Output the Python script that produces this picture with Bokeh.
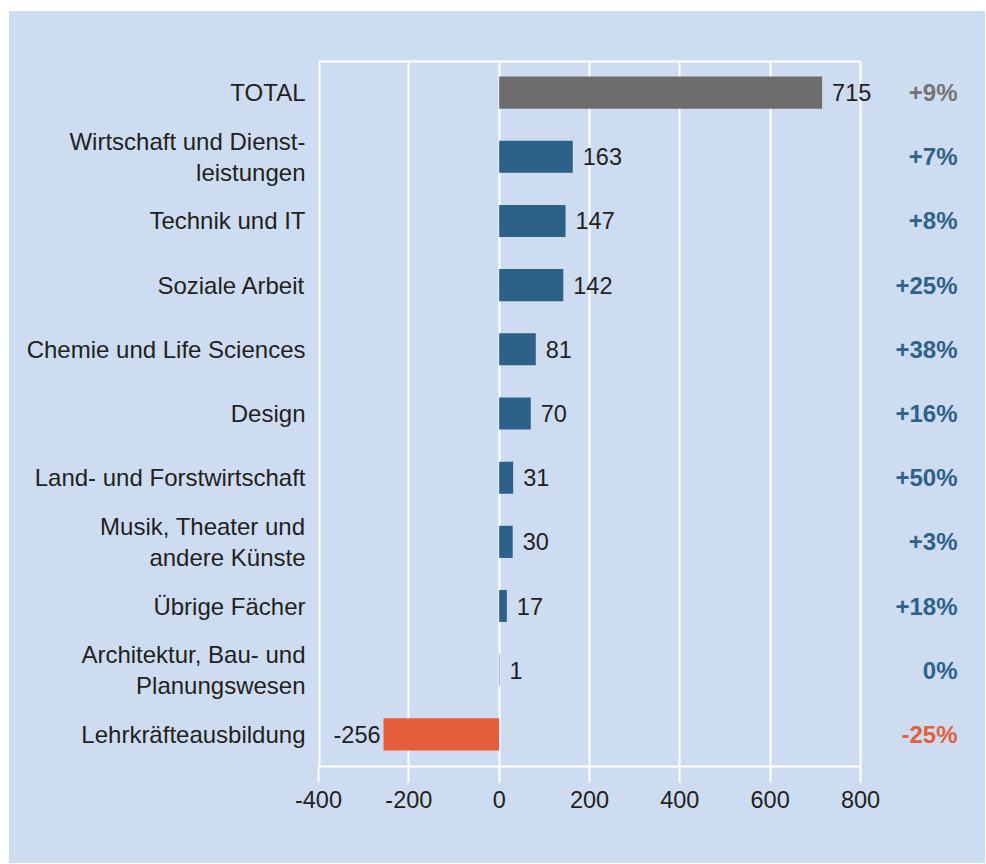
from bokeh.plotting import figure
from bokeh.models import ColumnDataSource, FactorRange, FixedTicker, LabelSet
from bokeh.core.properties import value
from bokeh.embed import file_html
from bokeh.resources import INLINE

categories = [
    "TOTAL",
    "Wirtschaft und Dienst-\nleistungen",
    "Technik und IT",
    "Soziale Arbeit",
    "Chemie und Life Sciences",
    "Design",
    "Land- und Forstwirtschaft",
    "Musik, Theater und\nandere Künste",
    "Übrige Fächer",
    "Architektur, Bau- und\nPlanungswesen",
    "Lehrkräfteausbildung",
]
values = [715, 163, 147, 142, 81, 70, 31, 30, 17, 1, -256]
pct_labels = ["+9%", "+7%", "+8%", "+25%", "+38%", "+16%", "+50%", "+3%", "+18%", "0%", "-25%"]
x_ticks = [-400, -200, 0, 200, 400, 600, 800]

GREY = "#6d6d6d"
BLUE = "#2d6187"
ORANGE = "#e45e3a"
PANEL = "#cedcf1"
TEXT = "#231f20"
FONT = "Liberation Sans"

bar_colors = [GREY if c == "TOTAL" else (ORANGE if v < 0 else BLUE) for c, v in zip(categories, values)]
pct_colors = ["#747474" if c == "TOTAL" else ("#e3603b" if v < 0 else "#2d6289") for c, v in zip(categories, values)]

src = ColumnDataSource(dict(cat=categories, val=values, color=bar_colors,
                            pct=pct_labels, pcolor=pct_colors))
pos = ColumnDataSource(dict(cat=[c for c, v in zip(categories, values) if v >= 0],
                            val=[v for v in values if v >= 0],
                            lbl=[str(v) for v in values if v >= 0]))
neg = ColumnDataSource(dict(cat=[c for c, v in zip(categories, values) if v < 0],
                            val=[v for v in values if v < 0],
                            lbl=[str(v) for v in values if v < 0]))

# layout: canvas offset by margin; axis span -400..800 takes 542 px
W, H = 976, 852
BL, BT, BB = 309, 49, 97
axis_px = 542
frame_w = 654
x_lo, x_hi = x_ticks[0], x_ticks[-1]
unit_per_px = (x_hi - x_lo) / axis_px
x_end = x_lo + frame_w * unit_per_px
pct_x = x_hi + 97 * unit_per_px   # right edge of the percentage column

p = figure(width=W, height=H, output_backend="svg", toolbar_location=None,
           margin=(11, 0, 0, 9), styles={"background-color": PANEL},
           x_range=(x_lo, x_end),
           y_range=FactorRange(factors=list(reversed(categories)), range_padding=0),
           min_border_left=BL, min_border_right=W - BL - frame_w,
           min_border_top=BT, min_border_bottom=BB)

p.background_fill_color = PANEL
p.border_fill_color = PANEL
p.outline_line_color = None

p.hbar(y="cat", left=0, right="val", height=0.5, color="color", source=src, line_color=None)

# frame edges (top and left) of the value area
top = (categories[0], 0.5)
bottom = (categories[-1], -0.5)
p.segment(x0=[x_lo, x_lo], y0=[top, top], x1=[x_hi, x_lo], y1=[top, bottom],
          line_color="white", line_width=4)

p.add_layout(LabelSet(x="val", y="cat", text="lbl", source=pos, x_offset=10,
                      text_align="left", text_baseline="middle", text_font=value(FONT),
                      text_font_size="23.5px", text_color=TEXT))
p.add_layout(LabelSet(x="val", y="cat", text="lbl", source=neg, x_offset=-3,
                      text_align="right", text_baseline="middle", text_font=value(FONT),
                      text_font_size="23.5px", text_color=TEXT))
p.add_layout(LabelSet(x=pct_x, y="cat", text="pct", source=src,
                      text_align="right", text_baseline="middle", text_font=value(FONT),
                      text_font_style="bold", text_font_size="24px", text_color="pcolor"))

p.xgrid.grid_line_color = "white"
p.xgrid.grid_line_width = 2
p.xgrid.ticker = FixedTicker(ticks=x_ticks)
p.ygrid.grid_line_color = None

xa = p.xaxis[0]
xa.ticker = FixedTicker(ticks=x_ticks)
xa.bounds = (x_lo, x_hi)
xa.major_label_overrides = {t: str(t) for t in x_ticks}
xa.axis_line_color = "white"
xa.axis_line_width = 2
xa.major_tick_line_color = "white"
xa.major_tick_line_width = 2
xa.major_tick_in = 0
xa.major_tick_out = 16
xa.minor_tick_line_color = None
xa.major_label_standoff = 8
xa.major_label_text_font = FONT
xa.major_label_text_font_size = "23.5px"
xa.major_label_text_color = TEXT

ya = p.yaxis[0]
ya.axis_line_color = None
ya.major_tick_line_color = None
ya.major_tick_in = 0
ya.major_tick_out = 0
ya.minor_tick_line_color = None
ya.major_label_standoff = 13
ya.major_label_text_font = FONT
ya.major_label_text_font_size = "24px"
ya.major_label_text_color = TEXT
ya.major_label_text_line_height = 1.15

open("out.html", "w").write(file_html(p, INLINE))
